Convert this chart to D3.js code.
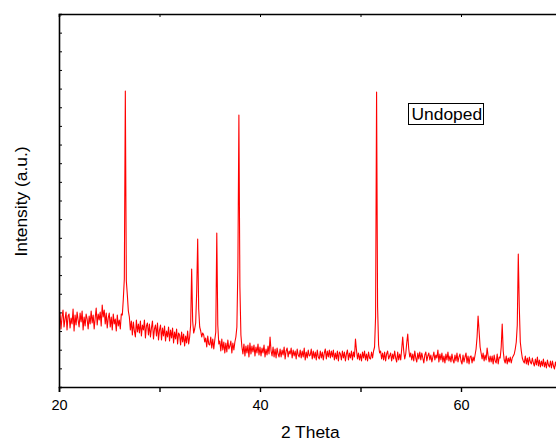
<!DOCTYPE html>
<html>
<head>
<meta charset="utf-8">
<script src="https://cdn.jsdelivr.net/npm/d3@7"></script>
<style>
  body { margin: 0; background: #fff; }
  svg { display: block; font-family: "Liberation Sans", Arial, sans-serif; }
</style>
</head>
<body>
<svg width="556" height="443"></svg>
<script>
// scan grid (degrees 2-theta) and intensities (a.u.)
var thetaStart = 20, thetaStep = 0.1;
var counts = [
  66,74,58,70,77,60,68,75,57,71,   // 20
  73,59,69,63,78,56,72,62,75,67,   // 21
  60,74,65,76,57,70,61,73,68,58,   // 22
  71,63,76,64,72,58,69,79,62,73,   // 23
  67,75,61,82,70,77,63,74,59,69,   // 24
  74,60,70,57,73,63,68,56,72,61,   // 25
  67,58,73,72,88,108,296,106,92,76, // 26
  70,57,66,52,65,56,50,67,55,63,   // 27
  54,66,51,62,57,67,49,61,64,52,   // 28
  63,50,59,66,48,58,62,51,64,47,   // 29
  57,62,47,59,51,61,46,56,50,60,   // 30
  46,57,49,59,44,55,48,58,43,54,   // 31
  52,42,55,45,53,41,51,44,56,43,   // 32
  50,62,118,66,54,58,64,95,148,78, // 33
  60,56,50,54,52,45,49,40,51,43,   // 34
  42,50,39,48,38,47,55,154,62,43,  // 35
  46,36,48,37,45,34,44,35,47,38,   // 36
  41,46,34,44,37,45,50,60,120,272, // 37
  100,52,40,33,43,31,41,34,42,30,  // 38
  44,33,41,35,42,31,40,34,43,32,   // 39
  40,31,39,34,42,30,38,32,41,33,   // 40
  50,36,31,40,30,38,29,39,33,30,   // 41
  38,30,37,32,40,28,36,39,30,36,   // 42
  33,39,29,37,31,36,28,38,32,30,   // 43
  37,29,36,30,39,27,35,29,37,31,   // 44
  32,38,28,36,29,35,27,37,30,28,   // 45
  36,29,35,27,34,38,28,36,30,37,   // 46
  29,36,30,37,27,34,28,36,26,35,   // 47
  33,27,36,29,35,26,33,37,27,34,   // 48
  29,36,27,35,30,48,37,28,34,27,   // 49
  33,26,35,29,36,27,33,26,35,29,   // 50
  28,35,29,36,40,70,295,80,42,34,  // 51
  36,28,34,27,35,26,33,36,28,31,   // 52
  34,26,33,28,36,29,25,35,27,33,   // 53
  27,38,50,36,28,33,44,53,38,30,   // 54
  34,27,33,26,36,29,25,34,28,35,   // 55
  27,34,29,24,32,35,26,31,34,27,   // 56
  32,25,30,35,27,32,29,37,25,33,   // 57
  27,34,25,31,24,33,27,35,26,31,   // 58
  25,33,27,24,32,26,34,25,30,33,   // 59
  26,23,32,25,30,34,24,31,23,30,   // 60
  31,24,30,26,32,38,50,71,56,40,   // 61
  34,28,34,26,32,27,39,31,25,31,   // 62
  25,31,23,32,26,24,33,23,30,29,   // 63
  40,63,36,27,24,31,23,29,25,30,   // 64
  24,29,31,33,38,45,62,133,80,45,  // 65
  36,29,26,24,31,23,29,22,30,25,   // 66
  23,29,24,21,28,22,30,21,27,20,   // 67
  26,21,28,20,25,19,27,22,20,26,   // 68
  19,26,21,18,25,20                // 69
];
var xTicks = [20, 30, 40, 50, 60, 70];
var xLabels = [20, 40, 60];
var sampleName = "Undoped";

var svg = d3.select("svg"),
    width = +svg.attr("width"),
    height = +svg.attr("height");

var plotLeft = 59, plotTop = 14, plotBottom = 387;
var font = "'Liberation Sans', Arial, sans-serif";

var x = d3.scaleLinear().domain([20, 70]).range([plotLeft, plotLeft + 502.5]);
var y = d3.scaleLinear().domain([0, 373]).range([plotBottom, plotTop]);

var points = counts.map(function(c, i) {
    return { t: thetaStart + i * thetaStep, c: c };
});

svg.append("defs").append("clipPath").attr("id", "clip")
    .append("rect").attr("x", plotLeft).attr("y", plotTop)
    .attr("width", width - plotLeft).attr("height", plotBottom - plotTop);

var line = d3.line()
    .x(function(d) { return x(d.t); })
    .y(function(d) { return y(d.c); });

svg.append("path")
    .datum(points)
    .attr("clip-path", "url(#clip)")
    .attr("fill", "none")
    .attr("stroke", "#ff0000")
    .attr("stroke-width", 1.1)
    .attr("stroke-linejoin", "round")
    .attr("d", line);

// bottom axis, outward ticks
var xAxis = svg.append("g")
    .attr("transform", "translate(0," + plotBottom + ")")
    .call(d3.axisBottom(x).tickValues(xTicks).tickSizeOuter(0)
        .tickSize(5)
        .tickFormat(function(d) { return xLabels.indexOf(d) >= 0 ? d : ""; }))
    .attr("font-size", 14.5)
    .attr("font-family", font);
xAxis.select(".domain").attr("stroke-width", 1.6);
xAxis.selectAll(".tick line").attr("stroke-width", 1.4);
xAxis.selectAll(".tick text")
    .attr("y", 13).attr("dy", "0.71em")
    .attr("fill", "#000");

// top axis, inward ticks, no labels
var xTop = svg.append("g")
    .attr("transform", "translate(0," + plotTop + ")")
    .call(d3.axisTop(x).tickValues(xTicks).tickSizeOuter(0)
        .tickSize(-3).tickFormat(""));
xTop.select(".domain").attr("stroke-width", 1.6);

// left axis, small inward ticks
var yTicks = d3.range(1, 20).map(function(i) { return i * 373 / 20; });
var yAxis = svg.append("g")
    .attr("transform", "translate(" + plotLeft + ",0)")
    .call(d3.axisLeft(y).tickValues(yTicks).tickSizeOuter(0)
        .tickSize(-3).tickFormat(""));
yAxis.select(".domain").attr("stroke-width", 1.6);

svg.append("text")
    .attr("x", x(45))
    .attr("y", 437.5)
    .attr("text-anchor", "middle")
    .attr("font-size", 17.4)
    .attr("font-family", font)
    .attr("fill", "#000")
    .text("2 Theta");

svg.append("text")
    .attr("transform", "translate(26.5," + ((plotTop + plotBottom) / 2 + 1) + ") rotate(-90)")
    .attr("text-anchor", "middle")
    .attr("font-size", 17.4)
    .attr("font-family", font)
    .attr("fill", "#000")
    .text("Intensity (a.u.)");

// sample label in a box
var label = svg.append("g");
label.append("rect")
    .attr("x", 408.5).attr("y", 103.5)
    .attr("width", 75).attr("height", 21)
    .attr("fill", "#fff")
    .attr("stroke", "#000")
    .attr("stroke-width", 1);
label.append("text")
    .attr("x", 411.5).attr("y", 119.5)
    .attr("font-size", 17.4)
    .attr("font-family", font)
    .attr("fill", "#000")
    .text(sampleName);
</script>
</body>
</html>
